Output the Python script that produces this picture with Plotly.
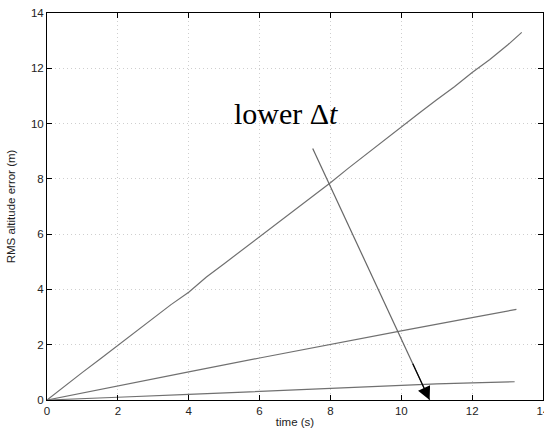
import plotly.graph_objects as go

# Data
top_x = [0, 0.8, 1, 1.5, 2, 2.5, 3, 3.5, 4, 4.5, 5, 5.5, 6, 6.5, 7, 7.5, 8, 8.5, 9, 9.5, 10, 10.5, 11, 11.5, 12, 12.5, 13, 13.4]
top_y = [0, 0.82, 1.0, 1.48, 1.98, 2.47, 2.95, 3.45, 3.9, 4.45, 4.93, 5.42, 5.9, 6.37, 6.86, 7.35, 7.86, 8.38, 8.88, 9.38, 9.9, 10.37, 10.86, 11.33, 11.85, 12.32, 12.84, 13.3]

mid_x = [0, 2, 4, 6, 8, 10, 12, 13.25]
mid_y = [0, 0.52, 1.02, 1.52, 2.02, 2.5, 2.98, 3.28]

low_x = [0, 1, 2, 4, 6, 8, 10, 11, 12, 13.2]
low_y = [0, 0.06, 0.1, 0.2, 0.31, 0.42, 0.54, 0.58, 0.62, 0.66]

arrow_start = (7.5, 9.1)
arrow_end = (10.8, 0.0)
label_pos = (6.75, 10.35)

ticks = [0, 2, 4, 6, 8, 10, 12, 14]

fig = go.Figure()
for xs, ys in [(top_x, top_y), (mid_x, mid_y), (low_x, low_y)]:
    fig.add_trace(go.Scatter(x=xs, y=ys, mode="lines",
                             line=dict(color="#707070", width=1.2),
                             showlegend=False, hoverinfo="skip"))

# arrow shaft (gray) + head (black)
fig.add_trace(go.Scatter(x=[arrow_start[0], arrow_end[0]], y=[arrow_start[1], arrow_end[1]],
                         mode="lines", line=dict(color="#666666", width=1.2),
                         showlegend=False, hoverinfo="skip"))
fig.add_annotation(x=arrow_end[0], y=arrow_end[1],
                   ax=arrow_end[0] - (arrow_end[0] - arrow_start[0]) * 0.15,
                   ay=arrow_end[1] + (arrow_start[1] - arrow_end[1]) * 0.15,
                   xref="x", yref="y", axref="x", ayref="y",
                   showarrow=True, arrowhead=2, arrowsize=2.2, arrowwidth=1.2,
                   arrowcolor="#000000", text="")

fig.add_annotation(x=label_pos[0], y=label_pos[1], xref="x", yref="y",
                   text="lower \u0394<i>t</i>", showarrow=False,
                   font=dict(family="Liberation Serif, Times New Roman, serif", size=30, color="#000000"))

axis_common = dict(
    range=[0, 14], tickvals=ticks, ticktext=[str(t) for t in ticks],
    ticks="inside", ticklen=5, tickcolor="#000000", tickwidth=1,
    showline=True, linecolor="#000000", linewidth=1, mirror="ticks",
    showgrid=True, gridcolor="#cfcfcf", griddash="1px,3px", gridwidth=1,
    zeroline=False,
    tickfont=dict(family="Liberation Sans, Arial, sans-serif", size=11.5, color="#222222"),
)

fig.update_xaxes(**axis_common, ticklabeloverflow="allow",
                 title=dict(text="time (s)", standoff=2,
                            font=dict(family="Liberation Sans, Arial, sans-serif", size=11.5, color="#222222")))
fig.update_yaxes(**axis_common,
                 title=dict(text="RMS altitude error (m)", standoff=12,
                            font=dict(family="Liberation Sans, Arial, sans-serif", size=11.5, color="#222222")))

fig.update_layout(width=544, height=432,
                  margin=dict(l=47, r=1, t=13, b=32, autoexpand=False),
                  paper_bgcolor="white", plot_bgcolor="white")

fig.write_html("out.html")
